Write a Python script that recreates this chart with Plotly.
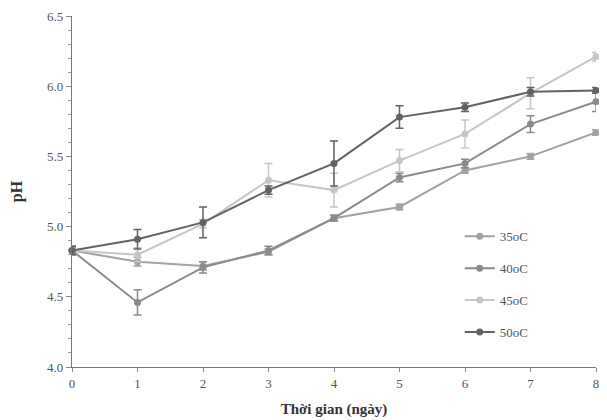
import plotly.graph_objects as go

days = [0, 1, 2, 3, 4, 5, 6, 7, 8]
series_names = ["35oC", "40oC", "45oC", "50oC"]
ph_35 = [4.83, 4.75, 4.72, 4.82, 5.06, 5.14, 5.40, 5.50, 5.67]
ph_40 = [4.83, 4.46, 4.71, 4.83, 5.06, 5.35, 5.45, 5.73, 5.89]
ph_45 = [4.83, 4.80, 5.02, 5.33, 5.26, 5.47, 5.66, 5.95, 6.21]
ph_50 = [4.83, 4.91, 5.03, 5.26, 5.45, 5.78, 5.85, 5.96, 5.97]
err_35 = [0.02, 0.03, 0.03, 0.02, 0.02, 0.02, 0.02, 0.02, 0.02]
err_40 = [0.03, 0.09, 0.04, 0.03, 0.02, 0.03, 0.03, 0.06, 0.07]
err_45 = [0.03, 0.05, 0.03, 0.12, 0.12, 0.08, 0.10, 0.11, 0.03]
err_50 = [0.03, 0.07, 0.11, 0.03, 0.16, 0.08, 0.03, 0.03, 0.02]
colors = ["#a2a2a2", "#8a8a8a", "#c6c6c6", "#626262"]

fig = go.Figure()
for name, ys, es, c in zip(series_names, [ph_35, ph_40, ph_45, ph_50],
                           [err_35, err_40, err_45, err_50], colors):
    fig.add_trace(go.Scatter(
        x=days, y=ys, name=name, mode="lines+markers",
        line=dict(color=c, width=2),
        marker=dict(color=c, size=7, symbol="circle"),
        error_y=dict(type="data", array=es, visible=True, color=c,
                     thickness=1.5, width=4),
        cliponaxis=False, legendgroup=name,
    ))

# page body has an 8px default margin; size the figure to fit the window
fig.update_layout(
    width=599, height=412,
    margin=dict(l=64, r=11, t=8, b=53),
    paper_bgcolor="white", plot_bgcolor="white",
    font=dict(family="Liberation Serif", size=13, color="#555555"),
    showlegend=True,
    legend=dict(x=0.74, y=0.415, xanchor="left", yanchor="top",
                bgcolor="rgba(0,0,0,0)", tracegroupgap=12,
                font=dict(family="Liberation Serif", size=13, color="#555555")),
    xaxis=dict(
        range=[0, 8], tickmode="array", tickvals=days, automargin=False,
        showline=True, linecolor="#777777", linewidth=1.2,
        ticks="outside", ticklen=4, tickcolor="#888888",
        showgrid=False, zeroline=False, ticklabeloverflow="allow",
        title=dict(text="<b>Thời gian (ngày)</b>", standoff=13,
                   font=dict(family="Liberation Serif", size=15, color="#333333")),
    ),
    yaxis=dict(
        range=[4.0, 6.5], tickmode="array", automargin=False,
        tickvals=[4.0, 4.5, 5.0, 5.5, 6.0, 6.5], tickformat=".1f",
        showline=True, linecolor="#777777", linewidth=1.2,
        ticks="outside", ticklen=5, tickcolor="#888888",
        minor=dict(dtick=0.1, ticks="outside", ticklen=3, tickcolor="#999999"),
        showgrid=False, zeroline=False, ticklabeloverflow="allow",
        title=dict(text="<b>pH</b>", standoff=20,
                   font=dict(family="Liberation Serif", size=16, color="#333333")),
    ),
)

fig.write_html("out.html")
